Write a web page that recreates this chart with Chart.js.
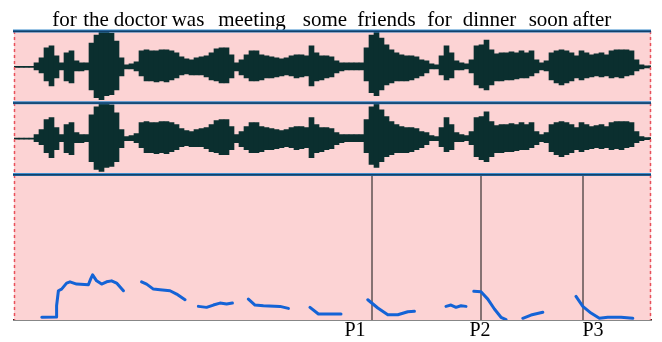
<!DOCTYPE html>
<html>
<head>
<meta charset="utf-8">
<script src="https://cdn.jsdelivr.net/npm/chart.js@4"></script>
<style>
  html, body { margin: 0; padding: 0; background: #ffffff; }
  #wrap { width: 662px; height: 342px; }
</style>
</head>
<body>
<div id="wrap"><canvas id="my-chart"></canvas></div>
<script>
'use strict';

// ************************* DATA ***************************

// waveform envelope, one column every 25 ms (upper and lower amplitude)
let frameStep = 0.025;
let waveTop = [
  0.6, 0.6, 0.6, 0.6, 4, 9, 19, 21, 11, 4,
  14, 16, 6, 4, 4, 24, 32, 35, 35, 34,
  26, 9, 2, 3, 5, 16, 17, 16, 16, 17,
  17, 16, 14, 10, 8, 7, 9, 10, 11, 14,
  18, 19, 19, 12, 4, 7, 12, 16, 16, 12,
  11, 10, 9, 8, 9, 11, 12, 12, 11, 21,
  14, 11, 11, 10, 6, 4, 4, 4, 4, 4,
  19, 32, 36, 29, 22, 17, 14, 12, 11, 11,
  10, 7, 6, 3, 2, 11, 21, 14, 6, 4,
  3, 7, 21, 22, 27, 17, 13, 14, 14, 15,
  14, 16, 14, 16, 7, 4, 6, 14, 16, 17,
  16, 14, 11, 16, 14, 12, 13, 14, 12, 16,
  17, 17, 17, 16, 7, 2, 1, 1
];
let waveBottom = [
  -0.6, -0.6, -0.6, -0.6, -3, -6, -14, -19, -11, -3,
  -14, -16, -4, -4, -3, -23, -31, -33, -29, -28,
  -23, -9, -2, -2, -4, -9, -14, -14, -15, -14,
  -15, -13, -11, -8, -7, -8, -8, -8, -10, -13,
  -14, -16, -16, -11, -4, -8, -11, -14, -14, -13,
  -11, -11, -10, -9, -8, -9, -11, -10, -9, -19,
  -14, -13, -11, -10, -6, -4, -3, -3, -3, -3,
  -14, -26, -29, -23, -18, -16, -14, -14, -14, -13,
  -11, -9, -6, -2, -2, -8, -13, -11, -3, -3,
  -2, -6, -18, -21, -23, -18, -14, -14, -13, -13,
  -12, -11, -11, -9, -6, -3, -4, -13, -16, -18,
  -16, -14, -11, -13, -11, -10, -9, -10, -9, -11,
  -10, -11, -9, -8, -4, -2, -1, -1
];

// pitch track (s, Hz), null = unvoiced gap
let pitchTimes = [
  0.139, 0.210, 0.213, 0.222, 0.238, 0.263, 0.280, 0.313, 0.372, 0.383, 0.393, 0.413, 0.438, 0.463, 0.488, 0.513, 0.547, 0.59,
  0.638, 0.663, 0.697, 0.730, 0.780, 0.813, 0.855, 0.89,
  0.922, 0.963, 0.997, 1.030, 1.063, 1.092, 1.13,
  1.172, 1.205, 1.247, 1.330, 1.372, 1.43,
  1.480, 1.522, 1.585, 1.635, 1.70,
  1.769, 1.819, 1.869, 1.919, 1.969, 2.002, 2.08,
  2.160, 2.185, 2.210, 2.235, 2.260, 2.28,
  2.299, 2.335, 2.369, 2.402, 2.435, 2.460, 2.50,
  2.544, 2.585, 2.644, 2.72,
  2.810, 2.844, 2.885, 2.927, 2.969, 3.035, 3.094
];
let pitchHz = [
  74.1, 74.5, 91.5, 114.2, 116.7, 125.8, 127.7, 124.3, 123.2, 131.8, 138.3, 129.2, 124.3, 127.7, 129.2, 125.8, 114.2, null,
  127.7, 124.3, 116.7, 115.7, 114.2, 109.2, 100.6, null,
  90.6, 89.1, 92.6, 95.6, 94.1, 95.6, null,
  101.6, 92.6, 91.5, 90.6, 87.6, null,
  89.1, 79.0, 79.0, 79.0, null,
  100.6, 88.1, 78.0, 78.0, 82.5, 83.1, null,
  90.6, 92.6, 89.1, 91.5, 90.6, null,
  113.3, 112.6, 101.6, 86.6, 74.1, 70.5, null,
  72.6, 77.5, 81.6, null,
  105.7, 90.6, 80.5, 72.6, 74.1, 74.1, 72.6
];

// words of the utterance and where they sit in time (s)
let words = ['for', 'the', 'doctor', 'was', 'meeting', 'some', 'friends', 'for', 'dinner', 'soon', 'after'];
let wordTimes = [0.2525, 0.41, 0.6325, 0.87, 1.19, 1.555, 1.8625, 2.1275, 2.3775, 2.6725, 2.89];

// marked points
let markerNames = ['P1', 'P2', 'P3'];
let markerTimes = [1.79, 2.335, 2.845];
let markerLabelTimes = [1.705, 2.33, 2.895];

let duration = 3.185;
let pitchMin = 70;
let pitchMax = 290;

// ************************* BUILD DATASETS ***************************

function waveData(){
  let out = [];
  for (let i = 0; i < waveTop.length; i++) {
    out.push({ x: frameStep / 2 + i * frameStep, y: [waveBottom[i], waveTop[i]] });
  }
  return out;
}

let pitchData = [];
for (let i = 0; i < pitchTimes.length; i++) {
  pitchData.push({ x: pitchTimes[i], y: pitchHz[i] });
}

let waveColor = '#0b2f2f';

let datasets = [
  {
    type: 'bar', data: waveData(), yAxisID: 'y1', xAxisID: 'x',
    backgroundColor: waveColor, borderWidth: 0, grouped: false,
    barPercentage: 1, categoryPercentage: 1
  },
  {
    type: 'bar', data: waveData(), yAxisID: 'y2', xAxisID: 'x',
    backgroundColor: waveColor, borderWidth: 0, grouped: false,
    barPercentage: 1, categoryPercentage: 1
  },
  {
    type: 'line', data: pitchData, yAxisID: 'y3', xAxisID: 'x',
    borderColor: '#1463d6', borderWidth: 3, pointRadius: 0,
    borderCapStyle: 'round', borderJoinStyle: 'round', spanGaps: false, tension: 0
  }
];

for (let i = 0; i < markerTimes.length; i++) {
  datasets.push({
    type: 'line', yAxisID: 'y3', xAxisID: 'x',
    data: [{ x: markerTimes[i], y: pitchMin }, { x: markerTimes[i], y: pitchMax }],
    borderColor: '#111111', borderWidth: 1, pointRadius: 0
  });
}

// ********************** PANEL DECORATION PLUGIN ********************

let panelPlugin = {
  id: 'panels',
  beforeDatasetsDraw(chart){
    let c = chart.ctx;
    let a = chart.chartArea;
    c.save();
    c.fillStyle = '#fcd3d4';
    c.fillRect(a.left, a.top, a.right - a.left, a.bottom - a.top);
    c.restore();
  },
  afterDatasetsDraw(chart){
    let c = chart.ctx;
    let a = chart.chartArea;
    c.save();
    // red dashed side borders
    c.strokeStyle = '#e8505a';
    c.lineWidth = 1.5;
    c.setLineDash([3, 3]);
    c.beginPath();
    c.moveTo(a.left + 0.5, a.top);
    c.lineTo(a.left + 0.5, a.bottom);
    c.moveTo(a.right - 0.5, a.top);
    c.lineTo(a.right - 0.5, a.bottom);
    c.stroke();
    c.setLineDash([]);
    // blue separators on top of each panel
    ['y1', 'y2', 'y3'].forEach(function(id){
      let y = chart.scales[id].top;
      c.fillStyle = '#3b8ccc';
      c.fillRect(a.left - 1, y - 1.5, a.right - a.left + 1, 3);
      c.fillStyle = '#12406a';
      c.fillRect(a.left - 1, y - 0.5, a.right - a.left + 1, 1.6);
    });
    c.restore();
  }
};

// ********************** CHART ********************

let ctx = document.getElementById('my-chart').getContext('2d');

function hiddenY(min, max, weight){
  return {
    type: 'linear', position: 'left', stack: 'panels', stackWeight: weight,
    min: min, max: max, offset: false,
    grid: { display: false, drawTicks: false },
    border: { display: false },
    ticks: { display: false }
  };
}

new Chart(ctx, {
  type: 'bar',
  data: { datasets: datasets },
  plugins: [panelPlugin],
  options: {
    responsive: true,
    maintainAspectRatio: false,
    animation: false,
    layout: { padding: { left: 14, right: 11, top: 10, bottom: 0 } },
    plugins: { legend: { display: false }, tooltip: { enabled: false } },
    scales: {
      x: {
        type: 'linear', position: 'bottom', min: 0, max: duration, offset: false,
        grid: { display: false, drawTicks: false },
        border: { display: true, color: '#111111', width: 1.5 },
        afterBuildTicks: function(axis){
          axis.ticks = markerLabelTimes.map(function(v){ return { value: v }; });
        },
        ticks: {
          autoSkip: false, maxRotation: 0, padding: 1, color: '#000000',
          font: { family: 'Liberation Serif', size: 20, lineHeight: 1 },
          callback: function(value, index){ return markerNames[index]; }
        }
      },
      xw: {
        type: 'linear', position: 'top', min: 0, max: duration, offset: false,
        grid: { display: false, drawTicks: false },
        border: { display: false },
        afterBuildTicks: function(axis){
          axis.ticks = wordTimes.map(function(v){ return { value: v }; });
        },
        ticks: {
          autoSkip: false, maxRotation: 0, padding: 0, color: '#000000',
          font: { family: 'Liberation Serif', size: 21, lineHeight: 1 },
          callback: function(value, index){ return words[index]; }
        }
      },
      // stacked panels are laid out bottom-up, so the pitch panel comes first
      y3: hiddenY(pitchMin, pitchMax, 146),
      y2: hiddenY(-36, 36, 72),
      y1: hiddenY(-36, 36, 72)
    }
  }
});
</script>
</body>
</html>
